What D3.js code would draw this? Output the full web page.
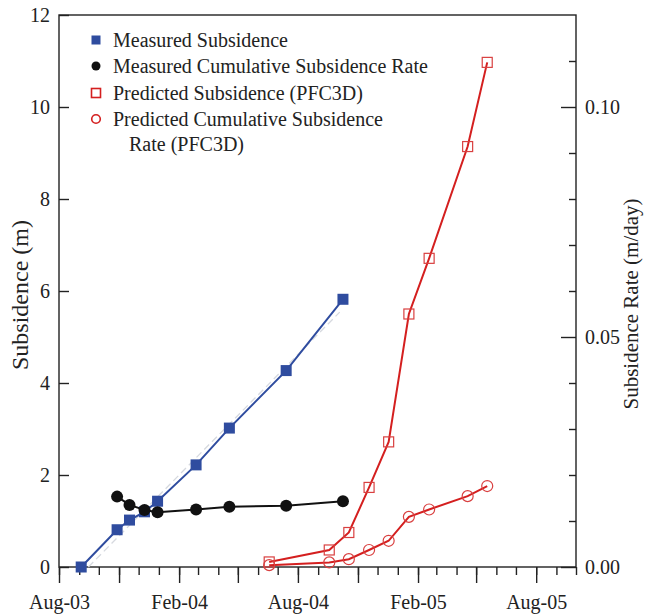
<!DOCTYPE html>
<html>
<head>
<meta charset="utf-8">
<script src="https://cdn.jsdelivr.net/npm/d3@7"></script>
<style>
  body { margin: 0; background: #fff; }
  svg { font-family: 'Liberation Serif', 'Times New Roman', serif; }
</style>
</head>
<body>
<div id="chart"></div>
<script>
// measured (field) data
const measuredDates = ['2003-09-04', '2003-10-29', '2003-11-17', '2003-12-10', '2003-12-30', '2004-02-27', '2004-04-18', '2004-07-14', '2004-10-09'];
const measuredSubsidence = [0, 0.81, 1.02, 1.2, 1.43, 2.22, 3.02, 4.27, 5.82];
const rateDates = ['2003-10-29', '2003-11-17', '2003-12-10', '2003-12-30', '2004-02-27', '2004-04-18', '2004-07-14', '2004-10-09'];
const measuredRate = [0.0153, 0.0135, 0.0124, 0.0119, 0.0125, 0.0131, 0.0133, 0.0143];

// PFC3D predictions
const predictedDates = ['2004-06-18', '2004-09-18', '2004-10-18', '2004-11-18', '2004-12-18', '2005-01-18', '2005-02-18', '2005-04-18', '2005-05-18'];
const predictedSubsidence = [0.11, 0.37, 0.75, 1.73, 2.72, 5.5, 6.71, 9.14, 10.97];
const predictedRate = [0.0004, 0.001, 0.0017, 0.0037, 0.0057, 0.0109, 0.0125, 0.0154, 0.0176];

const trendDates = ['2003-09-15', '2004-10-04'];
const trendValues = [0, 5.54];

const leftTicks = [0, 2, 4, 6, 8, 10, 12];
const rightTicks = [0, 0.05, 0.1];
const legendLabels = [
  'Measured Subsidence',
  'Measured Cumulative Subsidence Rate',
  'Predicted Subsidence (PFC3D)',
  'Predicted Cumulative Subsidence',
];

const parse = d3.timeParse('%Y-%m-%d');
const zip = (dates, values) => dates.map((d, i) => ({ date: parse(d), value: values[i] }));

const width = 652;
const height = 615;
const LEFT = 59;
const RIGHT = 576;
const TOP = 15;
const BOTTOM = 567;
const BLUE = '#2f4c9f';
const RED = '#d41f1f';

const xStart = new Date(2003, 7, 1);
const xEnd = new Date(2005, 9, 1);
const scaleX = d3.scaleTime().domain([xStart, xEnd]).range([LEFT, RIGHT]);
const scaleY = d3.scaleLinear().domain([0, 12]).range([BOTTOM, TOP]);
const scaleRate = d3.scaleLinear().domain([0, 0.12]).range([BOTTOM, TOP]);

const $svg = d3.select('#chart').append('svg')
  .attr('width', width)
  .attr('height', height);

// frame
$svg.append('rect')
  .attr('x', LEFT).attr('y', TOP)
  .attr('width', RIGHT - LEFT).attr('height', BOTTOM - TOP)
  .attr('fill', 'none').attr('stroke', '#222').attr('stroke-width', 1.4);

// bottom axis: monthly minor, quarterly major, labels every 6 months
const fmtMonth = d3.timeFormat('%b-%y');
const monthTicks = d3.timeMonth.range(xStart, new Date(2005, 9, 2), 1);
const quarterTicks = monthTicks.filter((d, i) => i % 3 === 0);
$svg.append('g')
  .attr('transform', `translate(0,${BOTTOM})`)
  .call(d3.axisBottom(scaleX).tickValues(monthTicks).tickSize(8).tickFormat(''))
  .call(g => g.select('.domain').remove());
$svg.append('g')
  .attr('class', 'x-major')
  .attr('transform', `translate(0,${BOTTOM})`)
  .call(d3.axisBottom(scaleX)
    .tickValues(quarterTicks)
    .tickSize(16)
    .tickPadding(12)
    .tickFormat((d, i) => (i % 2 === 0 ? fmtMonth(d) : '')))
  .call(g => g.select('.domain').remove());

// left axis (ticks inward)
$svg.append('g')
  .attr('transform', `translate(${LEFT},0)`)
  .call(d3.axisLeft(scaleY).tickValues(leftTicks).tickSize(-10).tickPadding(9).tickFormat(d3.format('d')))
  .call(g => g.select('.domain').remove());

// right axis (ticks inward)
const minorRate = d3.range(1, 12).map(i => i / 100).filter(v => !rightTicks.some(t => Math.abs(t - v) < 1e-9));
$svg.append('g')
  .attr('transform', `translate(${RIGHT},0)`)
  .call(d3.axisRight(scaleRate).tickValues(minorRate).tickSize(-7).tickFormat(''))
  .call(g => g.select('.domain').remove());
$svg.append('g')
  .attr('transform', `translate(${RIGHT},0)`)
  .call(d3.axisRight(scaleRate).tickValues(rightTicks).tickSize(-15).tickPadding(9).tickFormat(d3.format('.2f')))
  .call(g => g.select('.domain').remove());

$svg.selectAll('.tick line').attr('stroke', '#222').attr('stroke-width', 1.4);
$svg.selectAll('.tick text')
  .attr('font-family', "'Liberation Serif', 'Times New Roman', serif")
  .attr('font-size', 20)
  .attr('fill', '#222');

// axis titles
$svg.append('text')
  .attr('transform', `translate(28,${(TOP + BOTTOM) / 2 + 4}) rotate(-90)`)
  .attr('text-anchor', 'middle')
  .attr('font-size', 24)
  .attr('fill', '#222')
  .text('Subsidence (m)');
$svg.append('text')
  .attr('transform', `translate(638,${(TOP + BOTTOM) / 2 + 13}) rotate(-90)`)
  .attr('text-anchor', 'middle')
  .attr('font-size', 21)
  .attr('fill', '#222')
  .text('Subsidence Rate (m/day)');

const lineY = d3.line().x(d => scaleX(d.date)).y(d => scaleY(d.value));
const lineRate = d3.line().x(d => scaleX(d.date)).y(d => scaleRate(d.value));

const $vis = $svg.append('g').attr('class', 'g-vis');

// trend line
$vis.append('path')
  .datum(zip(trendDates, trendValues))
  .attr('d', lineY)
  .attr('fill', 'none')
  .attr('stroke', '#d6d9df')
  .attr('stroke-width', 1.3)
  .attr('stroke-dasharray', '7,4');

// measured subsidence
const measured = zip(measuredDates, measuredSubsidence);
$vis.append('path').datum(measured).attr('d', lineY)
  .attr('fill', 'none').attr('stroke', BLUE).attr('stroke-width', 2);
$vis.selectAll('.sq-measured').data(measured).join('rect')
  .attr('class', 'sq-measured')
  .attr('x', d => scaleX(d.date) - 5.5)
  .attr('y', d => scaleY(d.value) - 5.5)
  .attr('width', 11).attr('height', 11)
  .attr('fill', BLUE);

// measured rate
const mRate = zip(rateDates, measuredRate);
$vis.append('path').datum(mRate).attr('d', lineRate)
  .attr('fill', 'none').attr('stroke', '#111').attr('stroke-width', 2);
$vis.selectAll('.dot-measured').data(mRate).join('circle')
  .attr('class', 'dot-measured')
  .attr('cx', d => scaleX(d.date))
  .attr('cy', d => scaleRate(d.value))
  .attr('r', 6)
  .attr('fill', '#111');

// predicted subsidence
const predicted = zip(predictedDates, predictedSubsidence);
$vis.append('path').datum(predicted).attr('d', lineY)
  .attr('fill', 'none').attr('stroke', RED).attr('stroke-width', 2);
$vis.selectAll('.sq-pred').data(predicted).join('rect')
  .attr('class', 'sq-pred')
  .attr('x', d => scaleX(d.date) - 5)
  .attr('y', d => scaleY(d.value) - 5)
  .attr('width', 10).attr('height', 10)
  .attr('fill', 'none').attr('stroke', '#d94040').attr('stroke-width', 1.2);

// predicted rate
const pRate = zip(predictedDates, predictedRate);
$vis.append('path').datum(pRate).attr('d', lineRate)
  .attr('fill', 'none').attr('stroke', RED).attr('stroke-width', 2);
$vis.selectAll('.dot-pred').data(pRate).join('circle')
  .attr('class', 'dot-pred')
  .attr('cx', d => scaleX(d.date))
  .attr('cy', d => scaleRate(d.value))
  .attr('r', 5.5)
  .attr('fill', 'none').attr('stroke', '#d94040').attr('stroke-width', 1.2);

// legend
const LEGEND_X = 96;
const LEGEND_Y = [40, 66, 93, 119];
const $legend = $svg.append('g').attr('class', 'g-legend');
$legend.append('rect').attr('x', LEGEND_X - 4.5).attr('y', LEGEND_Y[0] - 4.5)
  .attr('width', 9).attr('height', 9).attr('fill', BLUE);
$legend.append('circle').attr('cx', LEGEND_X).attr('cy', LEGEND_Y[1]).attr('r', 4.5).attr('fill', '#111');
$legend.append('rect').attr('x', LEGEND_X - 4.5).attr('y', LEGEND_Y[2] - 4.5)
  .attr('width', 9).attr('height', 9).attr('fill', 'none').attr('stroke', RED).attr('stroke-width', 1.6);
$legend.append('circle').attr('cx', LEGEND_X).attr('cy', LEGEND_Y[3]).attr('r', 4.3)
  .attr('fill', 'none').attr('stroke', RED).attr('stroke-width', 1.6);
$legend.selectAll('.legend-label').data(legendLabels).join('text')
  .attr('class', 'legend-label')
  .attr('x', 113)
  .attr('y', (d, i) => LEGEND_Y[i])
  .attr('dy', '0.35em')
  .attr('font-size', 20)
  .attr('fill', '#222')
  .text(d => d);
$legend.append('text')
  .attr('x', 129).attr('y', 144).attr('dy', '0.35em')
  .attr('font-size', 20).attr('fill', '#222')
  .text('Rate (PFC3D)');
</script>
</body>
</html>
